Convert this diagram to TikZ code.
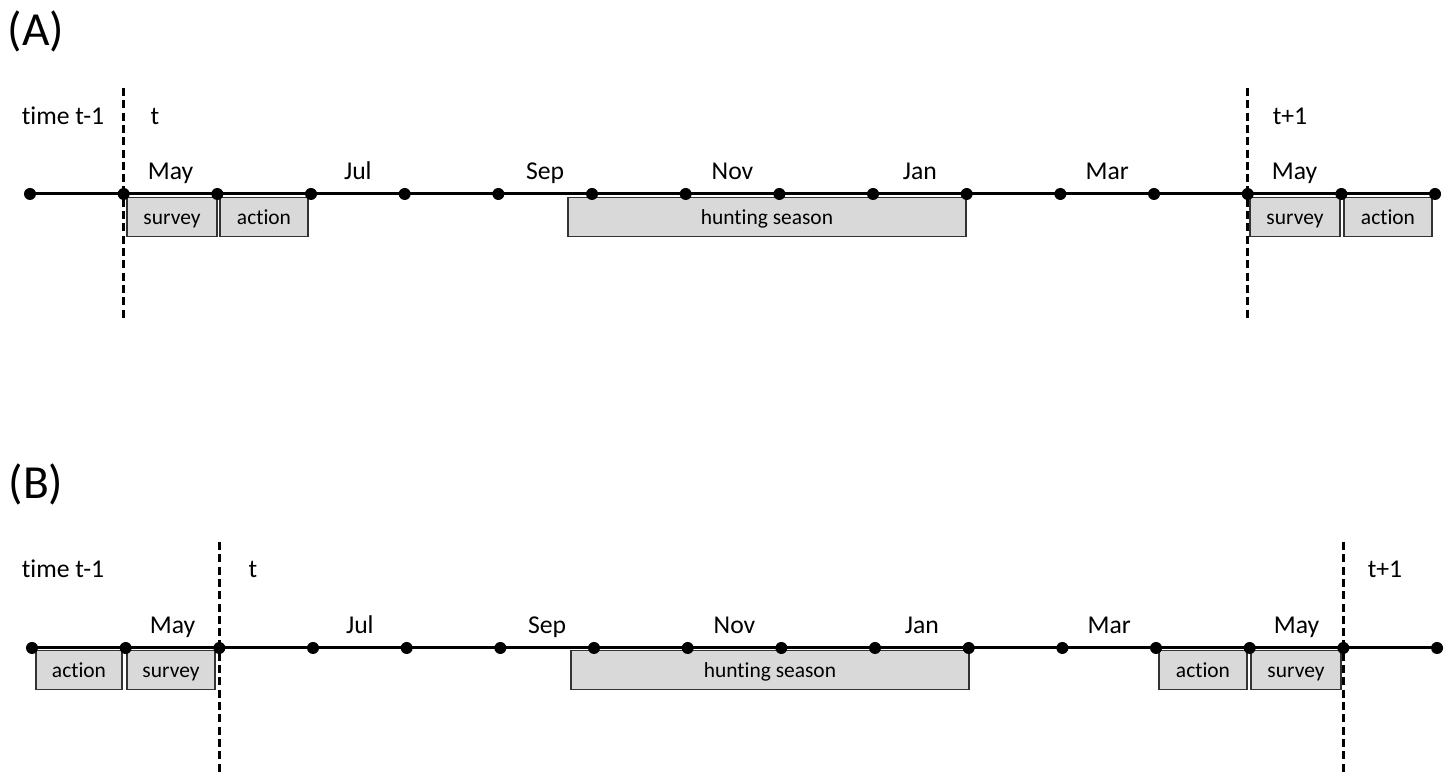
\documentclass[tikz,border=0pt]{standalone}
\usepackage{fontspec}
\setmainfont[Ligatures=NoCommon]{Carlito}

\begin{document}
\begin{tikzpicture}[
    x=0.01cm, y=-0.01cm,
    font=\fontsize{7.3}{9}\selectfont,
    axis/.style={line width=0.85pt},
    dot/.style={circle, fill=black, inner sep=0pt, minimum size=0.12cm},
    sep/.style={line width=0.85pt, dash pattern=on 2.3pt off 1.2pt},
    period/.style={
        draw=black!80, line width=0.4pt, fill=black!15, inner sep=0pt,
        minimum height=0.39cm, text height=5pt, text depth=1pt,
        font=\fontsize{6.1}{7}\selectfont
    },
    month/.style={anchor=base},
    panel/.style={font=\fontsize{13.5}{15}\selectfont},
]
    \useasboundingbox (0,0) rectangle (1450,774);

    % (A) survey before action
    \node[panel] (labA) at (36,31) {(A)};
    \node[period, minimum width=0.9cm]  (surA1) at (172,217)  {survey};
    \node[period, minimum width=0.88cm] (actA1) at (264,217)  {action};
    \node[period, minimum width=3.98cm] (huntA) at (767,217)  {hunting season};
    \node[period, minimum width=0.9cm]  (surA2) at (1295,217) {survey};
    \node[period, minimum width=0.88cm] (actA2) at (1388,217) {action};

    \foreach \i in {0,...,15}
        \node[dot] (a\i) at ({30+93.67*\i},194) {};
    \draw[axis] (a0.center) -- (a15.center);

    \foreach \m [count=\k] in {May,Jul,Sep,Nov,Jan,Mar,May}
        \node[month] (ma\k) at ({30+93.67*(2*\k-0.5)},180) {\m};

    \node[anchor=base] (tA0) at (63,125)   {time t-1};
    \node[anchor=base] (tA1) at (155,125)  {t};
    \node[anchor=base] (tA2) at (1290,125) {t+1};

    \draw[sep] (a1.center |- 0,88)  -- (a1.center |- 0,320);
    \draw[sep] (a13.center |- 0,88) -- (a13.center |- 0,320);

    % (B) action before survey
    \node[panel] (labB) at (36,484) {(B)};
    \node[period, minimum width=0.86cm] (actB1) at (79,670)   {action};
    \node[period, minimum width=0.88cm] (surB1) at (171,670)  {survey};
    \node[period, minimum width=3.98cm] (huntB) at (770,670)  {hunting season};
    \node[period, minimum width=0.88cm] (actB2) at (1203,670) {action};
    \node[period, minimum width=0.9cm]  (surB2) at (1296,670) {survey};

    \foreach \i in {0,...,15}
        \node[dot] (b\i) at ({32+93.67*\i},648) {};
    \draw[axis] (b0.center) -- (b15.center);

    \foreach \m [count=\k] in {May,Jul,Sep,Nov,Jan,Mar,May}
        \node[month] (mb\k) at ({32+93.67*(2*\k-0.5)},634) {\m};

    \node[anchor=base] (tB0) at (63,578)   {time t-1};
    \node[anchor=base] (tB1) at (253,578)  {t};
    \node[anchor=base] (tB2) at (1385,578) {t+1};

    \draw[sep] (b2.center |- 0,542)  -- (b2.center |- 0,774);
    \draw[sep] (b14.center |- 0,542) -- (b14.center |- 0,774);

\end{tikzpicture}
\end{document}
